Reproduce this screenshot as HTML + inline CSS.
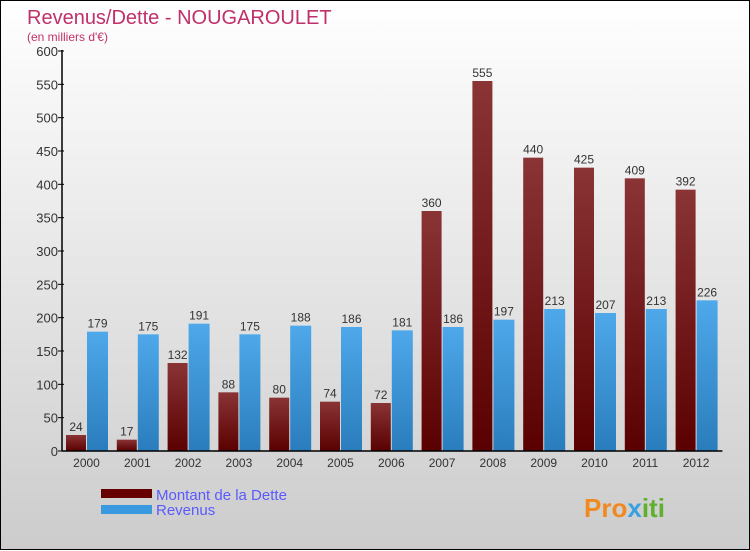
<!DOCTYPE html>
<html><head><meta charset="utf-8"><style>
body{margin:0;width:750px;height:550px;overflow:hidden;font-family:"Liberation Sans",sans-serif}
#wrap{position:relative;width:748px;height:548px;border:1px solid #000;background:linear-gradient(#fff,#ccc)}
svg{position:absolute;left:0;top:0}
</style></head><body>
<div id="wrap">
<svg id="c" width="750" height="550">
<defs>
<linearGradient id="gd" x1="0" y1="0" x2="0" y2="1"><stop offset="0" stop-color="#8a3436"/><stop offset="1" stop-color="#5a0000"/></linearGradient>
<linearGradient id="gr" x1="0" y1="0" x2="0" y2="1"><stop offset="0" stop-color="#4ea8ea"/><stop offset="1" stop-color="#2a7dbc"/></linearGradient>
</defs>
<text x="26" y="23" font-size="20" fill="#c0306a">Revenus/Dette - NOUGAROULET</text>
<text x="26" y="40" font-size="12" fill="#c0306a">(en milliers d'€)</text>
<g id="g"></g>
<rect x="100" y="488" width="51" height="9" fill="#600"/>
<rect x="100" y="504" width="51" height="9" fill="#3a9ae0"/>
<text x="155" y="499" font-size="15" fill="#5a5aff">Montant de la Dette</text>
<text x="155" y="514" font-size="15" fill="#5a5aff">Revenus</text>
<text x="583" y="516" font-size="26" font-weight="bold" fill="#f08a20">Pro<tspan fill="#3aa0e0">x</tspan><tspan fill="#60b030">iti</tspan></text>
</svg></div>
<script>
const years=["2000","2001","2002","2003","2004","2005","2006","2007","2008","2009","2010","2011","2012"];
const dette=[24,17,132,88,80,74,72,360,555,440,425,409,392];
const revenus=[179,175,191,175,188,186,181,186,197,213,207,213,226];
const ticks=[0,50,100,150,200,250,300,350,400,450,500,550,600];
const ns="http://www.w3.org/2000/svg",g=document.getElementById('g');
const x0=61,gw=50.8,yB=450,sc=400/600;
const y=v=>yB-v*sc;
function mk(t,a,txt){const e=document.createElementNS(ns,t);for(const k in a)e.setAttribute(k,a[k]);if(txt!==undefined)e.textContent=txt;g.appendChild(e);return e;}
ticks.forEach(t=>{
 const l=mk('line',{x1:x0-4,x2:x0+2,y1:y(t),y2:y(t),stroke:'#000'});
 
 const tx=mk('text',{x:x0-4,y:y(t)+5,'font-size':13,fill:'#333','text-anchor':'end'},t);
 
});
years.forEach((yr,i)=>{
 const gx=x0+gw*i;
 const b1=mk('rect',{x:gx+4,y:y(dette[i]),width:20,height:dette[i]*sc,fill:'url(#gd)'});
 
 const b2=mk('rect',{x:gx+25,y:y(revenus[i]),width:21,height:revenus[i]*sc,fill:'url(#gr)'});
 
 const v1=mk('text',{x:gx+14,y:y(dette[i])-4,'font-size':12,fill:'#333','text-anchor':'middle'},dette[i]);
 
 const v2=mk('text',{x:gx+35.5,y:y(revenus[i])-4,'font-size':12,fill:'#333','text-anchor':'middle'},revenus[i]);
 
 const xl=mk('text',{x:gx+24.5,y:466,'font-size':12,fill:'#333','text-anchor':'middle'},yr);
 
});
const ya=mk('line',{x1:x0,x2:x0,y1:49,y2:yB,stroke:'#000','stroke-width':1.5});

const xa=mk('line',{x1:x0,x2:x0+gw*13,y1:yB,y2:yB,stroke:'#000','stroke-width':1.5});

</script>
</body></html>
